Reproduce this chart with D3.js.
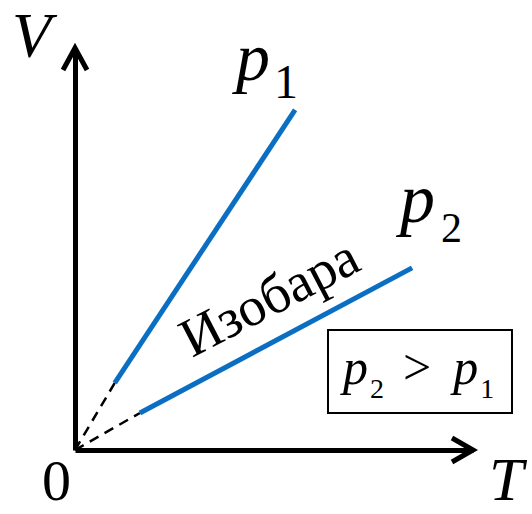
<!DOCTYPE html>
<html><head><meta charset="utf-8">
<script src="https://cdn.jsdelivr.net/npm/d3@7"></script>
</head><body style="margin:0">
<script>
// Data (abstract T, V units)
const series = ["p1", "p2"];
const p1T = [0, 1.0, 5.53];
const p1V = [0, 1.67, 8.46];
const p2T = [0, 1.63, 8.47];
const p2V = [0, 0.92, 4.53];
const axisMaxT = 10;
const axisMaxV = 10;
const axisLabels = ["T", "V", "0"];
const lineLabel = "Изобара";
const inequality = ["p", "2", ">", "p", "1"];

const W = 532, H = 514;
const FF = '"Liberation Serif"';
const svg = d3.select("body").append("svg").attr("width", W).attr("height", H).style("display", "block");
const x = d3.scaleLinear().domain([0, axisMaxT]).range([75, 473]);
const y = d3.scaleLinear().domain([0, axisMaxV]).range([450, 48]);
const blue = "#0a6fc2";

// axes (no ticks)
const gx = svg.append("g").attr("transform", `translate(0,${y(0)})`)
  .call(d3.axisBottom(x).tickValues([]).tickSizeOuter(0));
const gy = svg.append("g").attr("transform", `translate(${x(0)},0)`)
  .call(d3.axisLeft(y).tickValues([]).tickSizeOuter(0));
[gx, gy].forEach(g => g.select(".domain").attr("stroke", "#000").attr("stroke-width", 5));

// arrowheads
const ax = x(axisMaxT), ay = y(0);
svg.append("path").attr("d", `M${ax-21},${ay-12}L${ax},${ay}L${ax-21},${ay+12}`)
  .attr("fill", "none").attr("stroke", "#000").attr("stroke-width", 5).attr("stroke-linejoin", "miter");
const bx = x(0), by = y(axisMaxV);
svg.append("path").attr("d", `M${bx-12},${by+22}L${bx},${by}L${bx+12},${by+22}`)
  .attr("fill", "none").attr("stroke", "#000").attr("stroke-width", 5).attr("stroke-linejoin", "miter");

// isobars
const data = [[p1T, p1V], [p2T, p2V]];
data.forEach(([T, V]) => {
  svg.append("line").attr("x1", x(T[0])).attr("y1", y(V[0])).attr("x2", x(T[1])).attr("y2", y(V[1]))
    .attr("stroke", "#000").attr("stroke-width", 2.5).attr("stroke-dasharray", "10,7");
  svg.append("line").attr("x1", x(T[1])).attr("y1", y(V[1])).attr("x2", x(T[2])).attr("y2", y(V[2]))
    .attr("stroke", blue).attr("stroke-width", 5);
});

// axis labels
svg.append("text").attr("x", 12).attr("y", 57).attr("font-family", FF).attr("font-style", "italic")
  .attr("font-size", 64).text(axisLabels[1]);
svg.append("text").attr("x", 489).attr("y", 500).attr("font-family", FF).attr("font-style", "italic")
  .attr("font-size", 62).text(axisLabels[0]);
svg.append("text").attr("x", 42).attr("y", 500).attr("font-family", FF)
  .attr("font-size", 58).text(axisLabels[2]);

// series labels
function pLabel(px, py, sub, fs, subfs, dx, dy) {
  const t = svg.append("text").attr("x", px).attr("y", py).attr("font-family", FF).attr("font-size", fs);
  t.append("tspan").attr("font-style", "italic").text("p");
  t.append("tspan").attr("dx", dx).attr("dy", dy).attr("font-size", subfs).text(sub);
}
pLabel(236, 80, "1", 68, 48, 4, 18);
pLabel(400, 222, "2", 70, 42, 6, 20);

// line label
const ang = Math.atan2(y(p2V[2]) - y(p2V[1]), x(p2T[2]) - x(p2T[1])) * 180 / Math.PI;
svg.append("text").attr("transform", `translate(192,358) rotate(${ang + 0.6})`)
  .attr("font-family", FF).attr("font-size", 55).text(lineLabel);

// box
svg.append("rect").attr("x", 328).attr("y", 330).attr("width", 184).attr("height", 83)
  .attr("fill", "none").attr("stroke", "#000").attr("stroke-width", 2);
const bt = svg.append("text").attr("x", 343).attr("y", 384).attr("font-family", FF).attr("font-size", 50);
bt.append("tspan").attr("font-style", "italic").text(inequality[0]);
bt.append("tspan").attr("dx", 2).attr("dy", 14).attr("font-size", 28).text(inequality[1]);
bt.append("tspan").attr("dx", 19).attr("dy", -14).text(inequality[2]);
bt.append("tspan").attr("dx", 22).attr("font-style", "italic").text(inequality[3]);
bt.append("tspan").attr("dx", 2).attr("dy", 14).attr("font-size", 28).text(inequality[4]);
</script>
</body></html>
